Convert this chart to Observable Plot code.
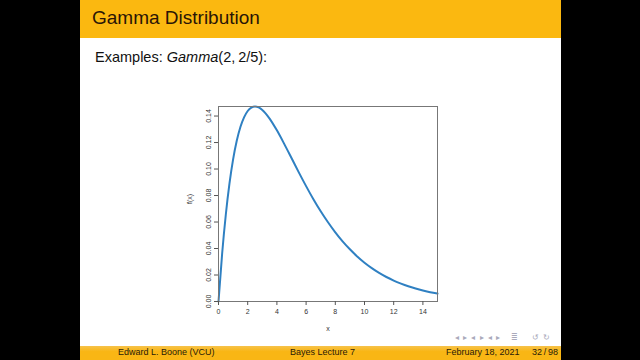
<!DOCTYPE html>
<html><head><meta charset="utf-8">
<script src="https://cdn.jsdelivr.net/npm/d3@7"></script>
<script src="https://cdn.jsdelivr.net/npm/@observablehq/plot@0.6"></script>
<style>
html,body{margin:0;padding:0;background:#000;width:640px;height:360px;overflow:hidden;font-family:"Liberation Sans",Arial,sans-serif;}
#slide{position:absolute;left:80px;top:0;width:481px;height:360px;background:#fff;}
#head{position:absolute;left:0;top:0;width:481px;height:38px;background:#fbb810;}
#title{position:absolute;left:12px;top:7px;font-size:19px;color:#2a1506;}
#ex{position:absolute;left:15px;top:49px;font-size:14.5px;color:#111;}
#foot{position:absolute;left:0;top:346px;width:481px;height:14px;background:linear-gradient(#f6c24a,#f9b614 40%);font-size:9px;color:#2a1a08;}
#foot span{position:absolute;top:1px;}
#nav{position:absolute;left:375px;top:333px;font-size:8px;color:#aab;letter-spacing:1px;}
#chart{position:absolute;left:90px;top:95px;}
</style></head>
<body>
<div id="slide">
  <div id="head"><div id="title">Gamma Distribution</div></div>
  <div id="ex">Examples: <i>Gamma</i>(2,&thinsp;2/5):</div>
  <div id="chart"></div>
  <div id="nav">◂ ▸ ◂ ▸ ◂ ▸ &nbsp; ≣ &nbsp;&nbsp; ↺ ↻</div>
  <div id="foot"><span style="left:38px">Edward L. Boone (VCU)</span><span style="left:210px">Bayes Lecture 7</span><span style="left:366px">February 18, 2021</span><span style="left:452px">32&thinsp;/&thinsp;98</span></div>
</div>
<script>
const xs = [0,0.25,0.5,0.75,1,1.25,1.5,1.75,2,2.25,2.5,2.75,3,3.5,4,4.5,5,5.5,6,6.5,7,7.5,8,8.5,9,9.5,10,10.5,11,11.5,12,12.5,13,13.5,14,14.5,15];
const fx = [0,0.0362,0.0655,0.0889,0.1073,0.1213,0.1317,0.1390,0.1438,0.1464,0.1472,0.1465,0.1446,0.1381,0.1292,0.1190,0.1083,0.0975,0.0871,0.0772,0.0681,0.0598,0.0522,0.0454,0.0394,0.0340,0.0293,0.0252,0.0216,0.0185,0.0158,0.0135,0.0115,0.0098,0.0083,0.0070,0.0060];
const xTicks = [0,2,4,6,8,10,12,14];
const yTicks = [0,0.02,0.04,0.06,0.08,0.10,0.12,0.14];
const xLabel = "x";
const yLabel = "f(x)";
const data = xs.map((x,i)=>({x, y: fx[i]}));

const chart = Plot.plot({
  width: 280, height: 250,
  marginLeft: 48, marginRight: 13, marginTop: 11, marginBottom: 44,
  style: {fontFamily: "Liberation Sans, Arial, sans-serif", fontSize: "7px", color: "#333", background: "transparent"},
  x: {domain: [0, 15]},
  y: {domain: [0, 0.1472]},
  marks: [
    Plot.line(data, {x: "x", y: "y", stroke: "#2f80c2", strokeWidth: 2, curve: "monotone-x"}),
    Plot.frame({stroke: "#777", strokeWidth: 1}),
    Plot.axisX({ticks: xTicks, tickSize: 4, tickPadding: 4, label: null, stroke: "#555", fill: "#333"}),
    Plot.axisY({ticks: yTicks, tickSize: 4, tickPadding: 4, tickRotate: -90, tickFormat: d3.format(".2f"), label: null, stroke: "#555", fill: "#333"}),
    Plot.text([xLabel], {frameAnchor: "bottom", dy: 29, text: d=>d, fill: "#333", fontSize: 7}),
    Plot.text([yLabel], {frameAnchor: "left", dx: -29, rotate: -90, text: d=>d, fill: "#333", fontSize: 7})
  ]
});
document.getElementById("chart").appendChild(chart);
</script>
</body></html>
